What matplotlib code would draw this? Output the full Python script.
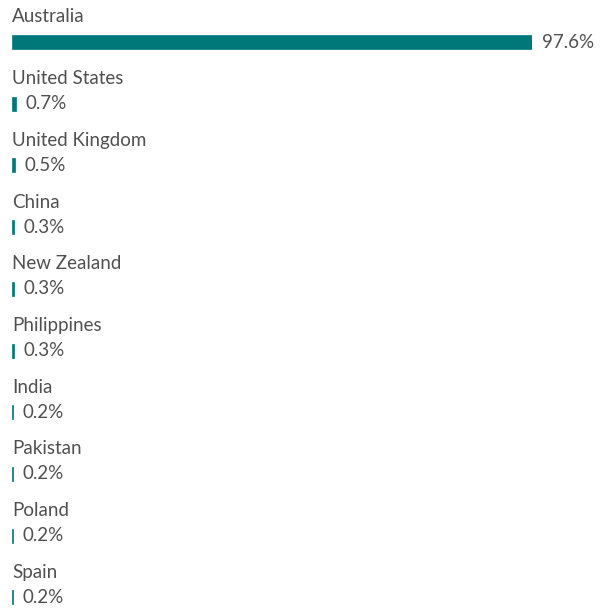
import matplotlib
matplotlib.use('Agg')
import matplotlib.pyplot as plt

# ─── Data ────────────────────────────────────────────────
countries = ['Australia', 'United States', 'United Kingdom', 'China', 'New Zealand',
             'Philippines', 'India', 'Pakistan', 'Poland', 'Spain']
shares = [97.6, 0.7, 0.5, 0.3, 0.3, 0.3, 0.2, 0.2, 0.2, 0.2]
value_labels = ['97.6%', '0.7%', '0.5%', '0.3%', '0.3%', '0.3%', '0.2%', '0.2%', '0.2%', '0.2%']

BAR = '#00787a'
TXT = '#505050'
plt.rcParams['font.family'] = ['Lato', 'DejaVu Sans']

W, H = 606, 609
fig = plt.figure(figsize=(W / 100, H / 100), dpi=100)
ax = fig.add_axes([12 / W, 0, 520 / W, 1])
ax.set_xlim(0, max(shares))
row = 61.7
ax.set_ylim((H - 42) / row, -42 / row)
ax.axis('off')

ys = list(range(len(countries)))
ax.barh(ys, shares, height=14 / row, color=BAR, edgecolor=BAR, linewidth=0.5)

for y, name, v, lab in zip(ys, countries, shares, value_labels):
    ax.text(0, y - 25 / row, name, fontsize=13.5, color=TXT, ha='left', va='center')
    ax.annotate(lab, (v, y), xytext=(7, 0), textcoords='offset points',
                fontsize=13.5, color=TXT, ha='left', va='center', annotation_clip=False)

fig.savefig('out.png', dpi=100)
